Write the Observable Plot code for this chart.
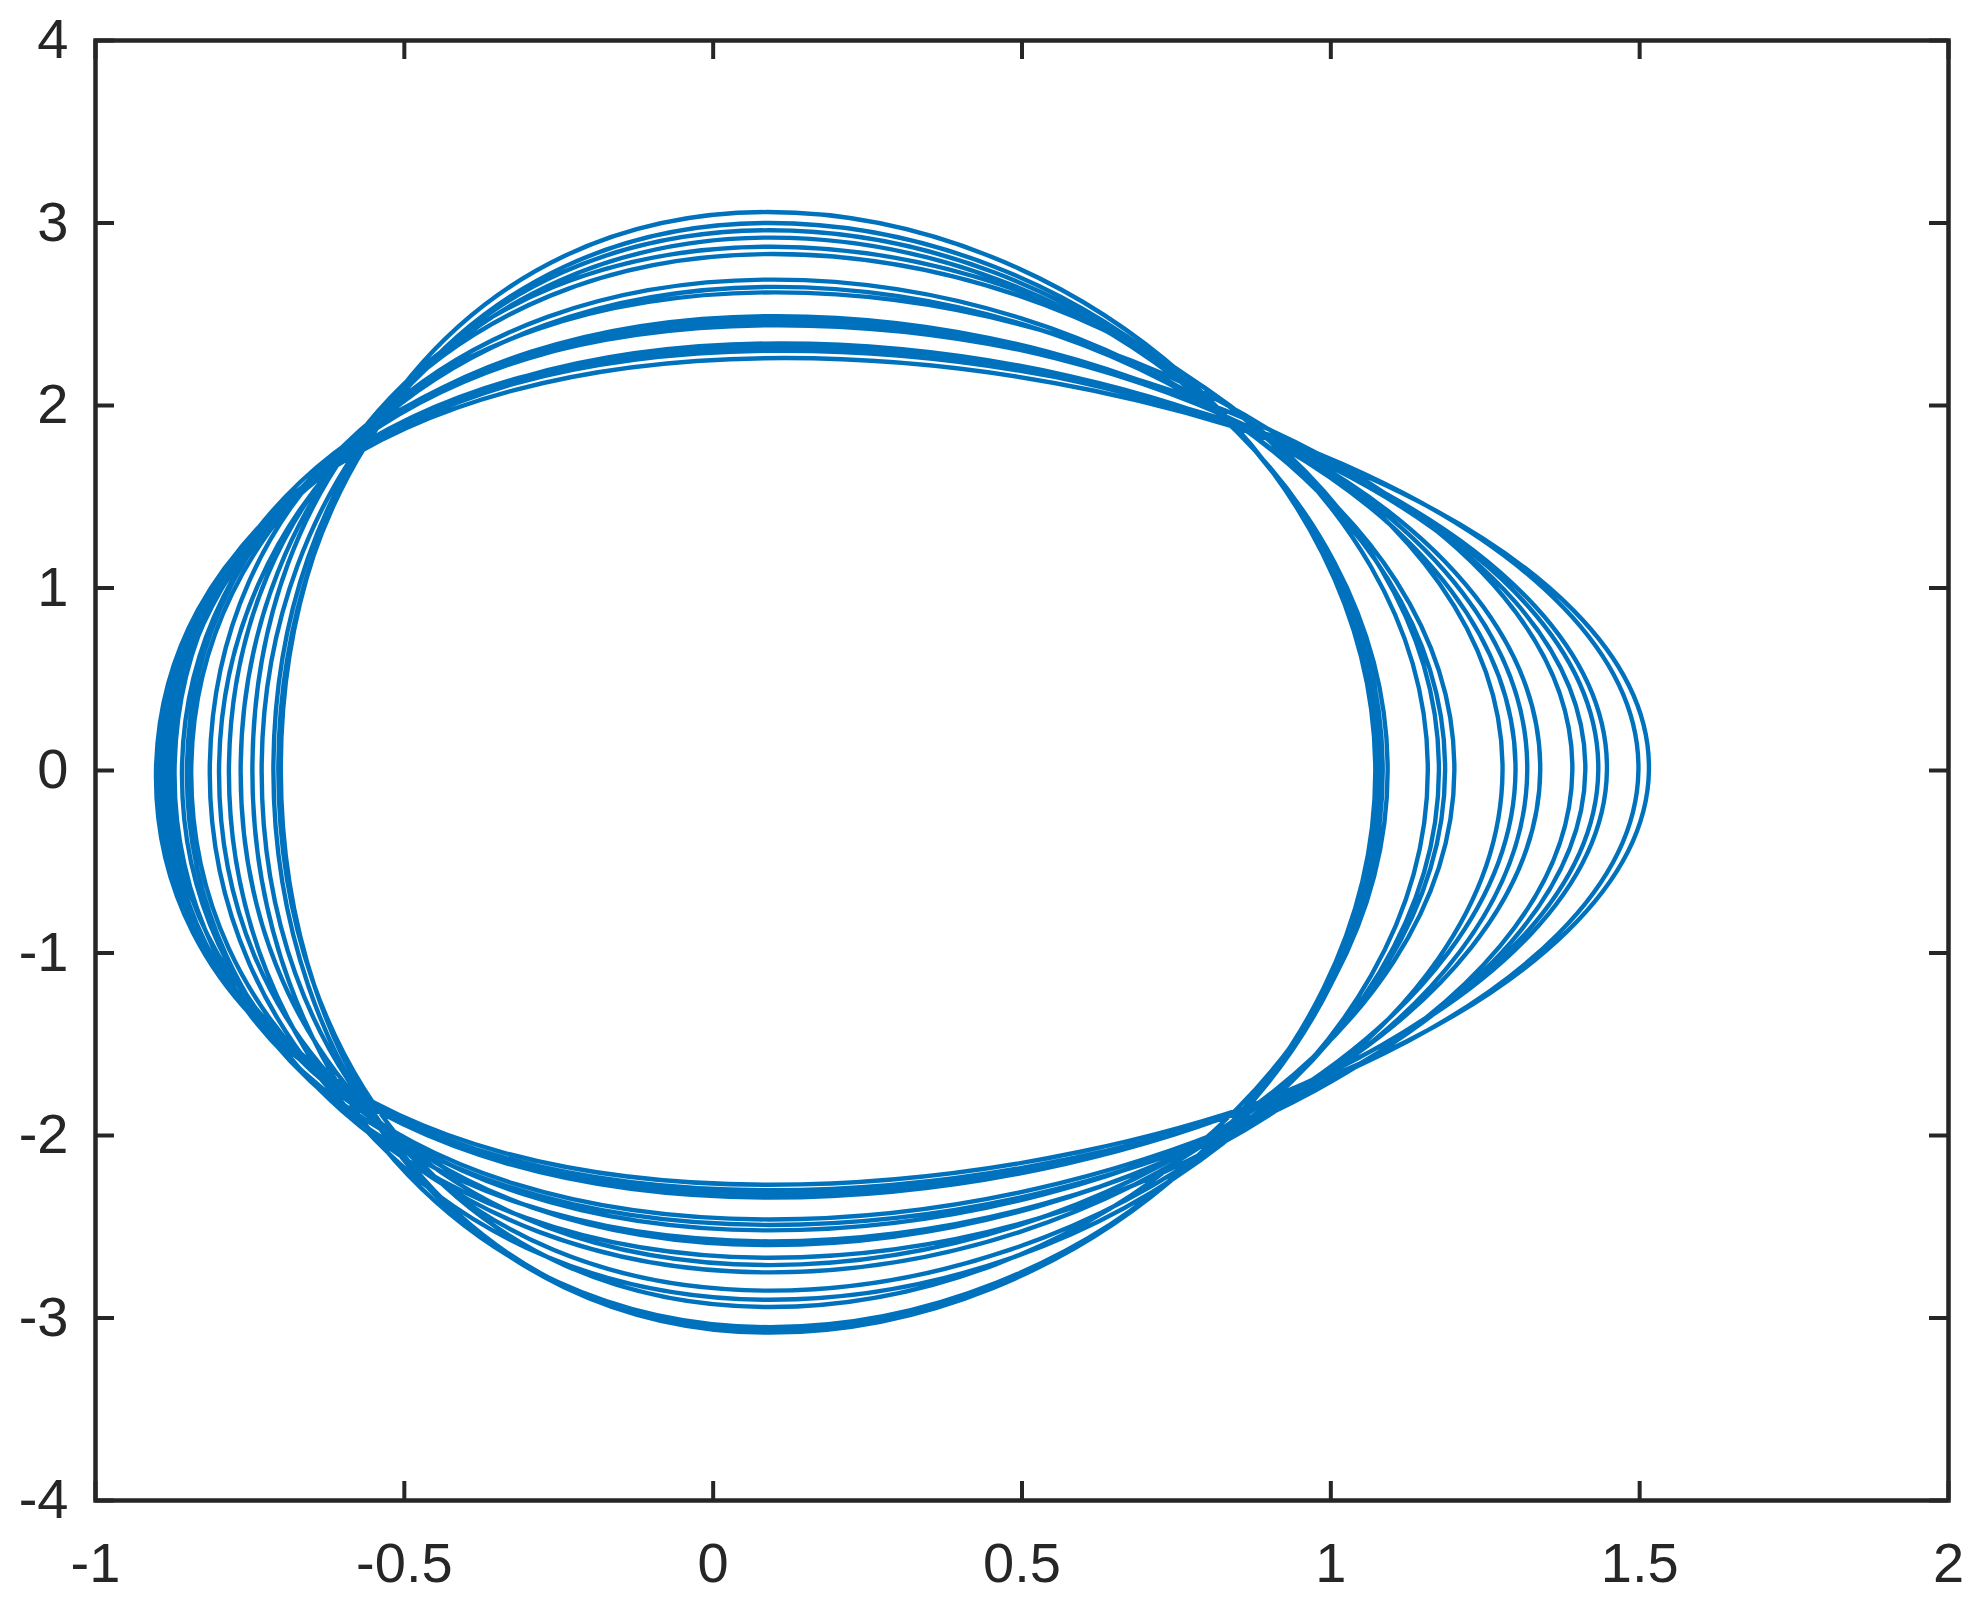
<!DOCTYPE html>
<html>
<head>
<meta charset="utf-8">
<script src="https://cdn.jsdelivr.net/npm/d3@7"></script>
<script src="https://cdn.jsdelivr.net/npm/@observablehq/plot@0.6"></script>
<style>
  html, body { margin: 0; padding: 0; background: #ffffff; }
  #chart { width: 1984px; height: 1605px; }
</style>
</head>
<body>
<div id="chart"></div>
<script>
// Turning points of each cycle of the trajectory, in trajectory order
const lefts   = [-0.700, -0.712, -0.746, -0.784, -0.815, -0.852, -0.872, -0.884, -0.896, -0.902, -0.890, -0.878, -0.860, -0.845, -0.800, -0.765, -0.731, -0.704];
const tops    = [3.06, 2.96, 2.87, 2.69, 2.62, 2.47, 2.44, 2.33, 2.30, 2.26, 2.31, 2.34, 2.45, 2.49, 2.65, 2.83, 2.92, 3.00];
const topXs   = [0.088, 0.091, 0.094, 0.098, 0.101, 0.104, 0.107, 0.110, 0.113, 0.115, 0.112, 0.109, 0.105, 0.102, 0.099, 0.096, 0.093, 0.090];
const rights  = [1.072, 1.084, 1.157, 1.185, 1.278, 1.318, 1.391, 1.433, 1.498, 1.515, 1.447, 1.412, 1.339, 1.299, 1.200, 1.175, 1.092, 1.078];
const bottoms = [-3.08, -3.05, -2.90, -2.75, -2.67, -2.58, -2.49, -2.34, -2.30, -2.27, -2.32, -2.46, -2.52, -2.60, -2.71, -2.85, -2.94, -3.07];
const bottomX = 0.092;  // x where the lower arcs bottom out

const xTicks = [-1, -0.5, 0, 0.5, 1, 1.5, 2];
const yTicks = [-4, -3, -2, -1, 0, 1, 2, 3, 4];

// Build the trajectory: left -> top -> right -> bottom for every cycle
const points = [];
lefts.forEach((l, i) => {
  points.push({x: l, y: 0});
  points.push({x: topXs[i], y: tops[i]});
  points.push({x: rights[i], y: 0});
  points.push({x: bottomX, y: bottoms[i]});
});

const W = 1984, H = 1605;
const mL = 95, mR = 36, mT = 40, mB = 105;
const innerW = W - mL - mR, innerH = H - mT - mB;
const tickLen = 19;
const ink = "#262626";

const chart = Plot.plot({
  width: W,
  height: H,
  marginLeft: mL,
  marginRight: mR,
  marginTop: mT,
  marginBottom: mB,
  style: {fontFamily: "'Liberation Sans', Arial, Helvetica, sans-serif", fontSize: "56px", color: ink, background: "#ffffff"},
  x: {domain: [-1, 2], axis: null},
  y: {domain: [-4, 4], axis: null},
  marks: [
    Plot.line(points, {x: "x", y: "y", curve: "cardinal-closed", tension: -0.65, stroke: "#0072BD", strokeWidth: 4.4, strokeLinejoin: "round"}),
    // inward ticks on all four sides
    Plot.ruleX(xTicks, {stroke: ink, strokeWidth: 4, insetTop: innerH - tickLen}),
    Plot.ruleX(xTicks, {stroke: ink, strokeWidth: 4, insetBottom: innerH - tickLen}),
    Plot.ruleY(yTicks, {stroke: ink, strokeWidth: 4, insetRight: innerW - tickLen}),
    Plot.ruleY(yTicks, {stroke: ink, strokeWidth: 4, insetLeft: innerW - tickLen}),
    Plot.frame({stroke: ink, strokeWidth: 4.5}),
    Plot.axisX({ticks: xTicks, tickSize: 0, tickPadding: 42, tickFormat: d => String(d), fontSize: 56, fill: ink, label: null}),
    Plot.axisY({ticks: yTicks, tickSize: 0, tickPadding: 27, tickFormat: d => String(d), fontSize: 56, fill: ink, label: null})
  ]
});
document.getElementById("chart").appendChild(chart);
</script>
</body>
</html>
